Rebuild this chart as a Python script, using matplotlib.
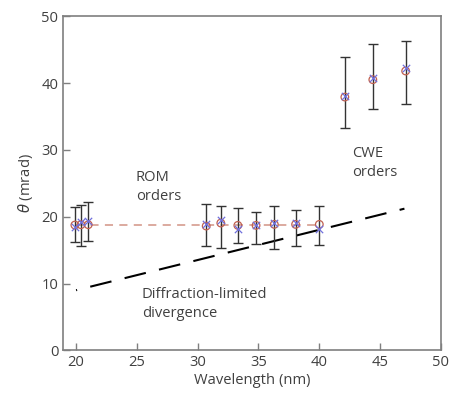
import numpy as np
import matplotlib.pyplot as plt

plt.rcParams['font.family'] = ['Open Sans', 'DejaVu Sans']

# ROM orders
rom_wl = [19.9, 20.4, 21.0, 30.7, 31.9, 33.3, 34.8, 36.3, 38.05, 40.0]
rom_circ = [18.75, 18.8, 18.8, 18.6, 19.05, 18.7, 18.7, 18.85, 18.85, 18.85]
rom_cross = [18.5, 19.2, 19.3, 18.95, 19.55, 18.1, 18.7, 19.0, 19.05, 18.1]
rom_top = [21.45, 21.75, 22.2, 21.85, 21.55, 21.3, 20.7, 21.55, 21.05, 21.55]
rom_bot = [16.2, 15.6, 16.3, 15.55, 15.35, 16.1, 15.95, 15.1, 15.55, 15.8]

# CWE orders
cwe_wl = [42.1, 44.4, 47.1]
cwe_circ = [37.9, 40.5, 41.8]
cwe_cross = [38.1, 40.7, 42.3]
cwe_top = [43.9, 45.9, 46.3]
cwe_bot = [33.2, 36.1, 36.9]

# mean ROM level and diffraction limit
rom_mean_wl = [20.0, 40.0]
rom_mean = [18.8, 18.8]
diff_wl = [20.0, 47.0]
diff_theta = [9.0, 21.2]

fig = plt.figure(figsize=(4.49, 3.95), dpi=100)
ax = fig.add_axes([0.141, 0.113, 0.841, 0.846])

txt = '#404040'
spine = '#7f7f7f'
fs = 10.6

ax.plot(rom_mean_wl, rom_mean, color='#d9a497', lw=1.3, dashes=(4.5, 3.5))
ax.plot(diff_wl, diff_theta, color='black', lw=1.5,
        linestyle=(10, (10.5, 6.5)))

wl = np.array(rom_wl + cwe_wl)
circ = np.array(rom_circ + cwe_circ)
cross = np.array(rom_cross + cwe_cross)
top = np.array(rom_top + cwe_top)
bot = np.array(rom_bot + cwe_bot)
mid = (top + bot) / 2
ax.errorbar(wl, mid, yerr=(top - bot) / 2, fmt='none', ecolor='#333333',
            elinewidth=1.0, capsize=3.5, capthick=1.0)
ax.scatter(wl, circ, s=30, facecolors='none', edgecolors='#c06050', lw=0.9, zorder=3)
ax.scatter(wl, cross, s=28, marker='x', color='#7070dd', lw=0.9, zorder=3)

ax.text(24.9, 25.9, 'ROM', fontsize=fs, color=txt, va='center')
ax.text(24.9, 22.95, 'orders', fontsize=fs, color=txt, va='center')
ax.text(42.7, 29.5, 'CWE', fontsize=fs, color=txt, va='center')
ax.text(42.7, 26.6, 'orders', fontsize=fs, color=txt, va='center')
ax.text(25.4, 8.3, 'Diffraction-limited', fontsize=fs, color=txt, va='center')
ax.text(25.4, 5.5, 'divergence', fontsize=fs, color=txt, va='center')

ax.set_xlim(18.95, 50)
ax.set_ylim(0, 50)
ax.set_xticks([20, 25, 30, 35, 40, 45, 50])
ax.set_yticks([0, 10, 20, 30, 40, 50])
ax.tick_params(direction='in', length=5, width=1, color=spine, labelcolor=txt,
               labelsize=fs, top=False, right=False)
for s in ax.spines.values():
    s.set_color(spine)
    s.set_linewidth(1.2)

ax.set_xlabel('Wavelength (nm)', fontsize=fs, color=txt, labelpad=2)
ax.set_ylabel(r'$\theta$ (mrad)', fontsize=fs, color=txt, labelpad=5)

fig.savefig('out.png', dpi=100)
